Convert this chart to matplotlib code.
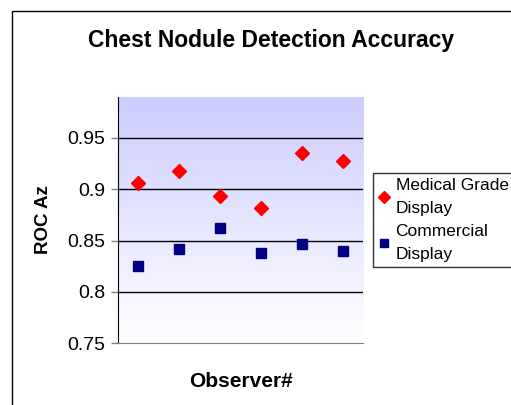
import matplotlib.pyplot as plt
import numpy as np
from matplotlib.patches import Rectangle

plt.rcParams['font.family'] = ['Liberation Sans', 'DejaVu Sans']

observers = [1, 2, 3, 4, 5, 6]
medical = [0.906, 0.918, 0.893, 0.882, 0.935, 0.928]
commercial = [0.825, 0.842, 0.862, 0.838, 0.847, 0.840]
yticks = [0.75, 0.8, 0.85, 0.9, 0.95]
ytick_labels = ['0.75', '0.8', '0.85', '0.9', '0.95']

fig = plt.figure(figsize=(5.11, 4.05), dpi=100)

# outer chart frame (runs off the right/bottom edge)
fig.patches.append(Rectangle((12 / 511, -0.1), 1.2, 1 - 11 / 405 + 0.1,
                             transform=fig.transFigure, fill=False,
                             edgecolor='black', linewidth=1.0))

ax = fig.add_axes([118 / 511, 1 - 343 / 405, 245 / 511, 246 / 405])

# gradient background, blue-ish at top fading to white
grad = np.linspace(0, 1, 256).reshape(-1, 1)
top = np.array([204, 204, 255]) / 255
bot = np.array([255, 255, 255]) / 255
img = top[None, None, :] * (1 - grad[:, :, None]) + bot[None, None, :] * grad[:, :, None]
ax.imshow(img, extent=[0.5, 6.5, 0.75, 0.99], aspect='auto', zorder=0)

for y in yticks[1:]:
    ax.axhline(y, color='black', linewidth=1.0, zorder=1)

ax.plot(observers, medical, linestyle='none', marker='D', markersize=7,
        color='#ff0000', label='Medical Grade\nDisplay', zorder=3)
ax.plot(observers, commercial, linestyle='none', marker='s', markersize=7,
        color='#000080', label='Commercial\nDisplay', zorder=3)

ax.set_xlim(0.5, 6.5)
ax.set_ylim(0.75, 0.99)
ax.set_yticks(yticks)
ax.set_yticklabels(ytick_labels, fontsize=14)
ax.set_xticks([])
ax.tick_params(axis='y', direction='out', length=5, width=1, color='gray', pad=4)

ax.spines['top'].set_visible(False)
ax.spines['right'].set_visible(False)
ax.spines['left'].set_color('black')
ax.spines['bottom'].set_color('gray')

ax.set_ylabel('ROC Az', fontsize=13.5, fontweight='bold', labelpad=11)
ax.set_xlabel('Observer#', fontsize=15, fontweight='bold', labelpad=21)

fig.text(271 / 511, 1 - 40 / 405, 'Chest Nodule Detection Accuracy',
         ha='center', va='center', fontsize=16.5, fontweight='bold')

leg = fig.legend(loc='upper left', bbox_to_anchor=(373 / 511, 1 - 173 / 405),
                 fontsize=12.5, frameon=True, fancybox=False, handlelength=0.7,
                 handletextpad=0.3, borderpad=0.3, labelspacing=0.45,
                 borderaxespad=0, markerscale=0.9)
for t in leg.get_texts():
    t.set_linespacing(1.65)
leg.get_frame().set_edgecolor('black')
leg.get_frame().set_linewidth(1.0)

plt.savefig('out.png', dpi=100)
